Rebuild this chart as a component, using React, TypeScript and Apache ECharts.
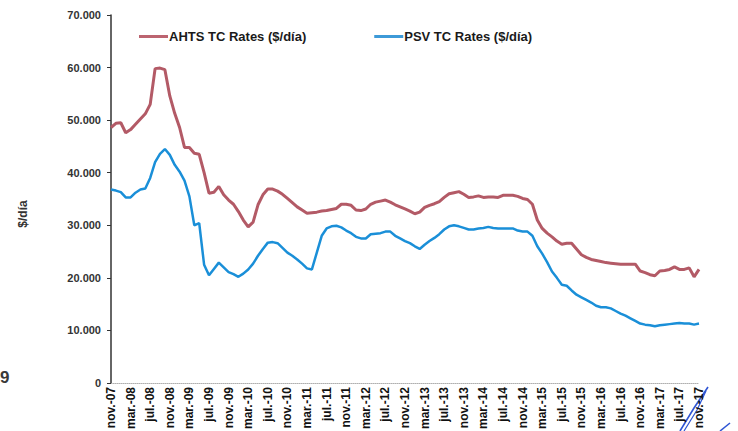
import React, { useEffect, useRef } from "react";
import * as echarts from "echarts";

const MONTH_NAMES = ["ene.", "feb.", "mar.", "abr.", "may.", "jun.", "jul.", "ago.", "sep.", "oct.", "nov.", "dic."];
const START_YEAR = 2007;
const START_MONTH = 10; // nov
const N_MONTHS = 121;

const categories: string[] = [];
for (let k = 0; k < N_MONTHS; k++) {
  const m = (START_MONTH + k) % 12;
  const y = START_YEAR + Math.floor((START_MONTH + k) / 12);
  categories.push(`${MONTH_NAMES[m]}-${String(y % 100).padStart(2, "0")}`);
}

const ahtsValues = [
  48600, 49400, 49500, 47600, 48200, 49200, 50200, 51200, 53000, 59800,
  59900, 59600, 54600, 51300, 48600, 44800, 44800, 43700, 43500, 40000,
  36100, 36300, 37400, 35800, 34800, 34000, 32600, 31000, 29700, 30600,
  33900, 35800, 36900, 36900, 36500, 35900, 35100, 34300, 33500, 32900,
  32300, 32400, 32500, 32700, 32800, 33000, 33200, 34000, 34000, 33800,
  32900, 32800, 33100, 34000, 34400, 34600, 34800, 34400, 33900, 33500,
  33100, 32700, 32200, 32500, 33400, 33800, 34100, 34500, 35300, 36000,
  36200, 36400, 35900, 35300, 35400, 35600, 35300, 35400, 35400, 35300,
  35700, 35700, 35700, 35500, 35100, 34900, 34000, 31000, 29400, 28500,
  27800, 27000, 26400, 26600, 26600, 25500, 24400, 23900, 23500, 23300,
  23100, 22900, 22800, 22700, 22600, 22600, 22600, 22600, 21300, 21000,
  20600, 20400, 21300, 21400, 21600, 22100, 21600, 21600, 21900, 20200,
  21600,
];

const psvValues = [
  36800, 36600, 36300, 35300, 35300, 36200, 36800, 37000, 39000, 42000,
  43600, 44500, 43400, 41500, 40200, 38500, 35500, 30000, 30400, 22500,
  20500, 21700, 22900, 22000, 21100, 20700, 20200, 20800, 21600, 22700,
  24200, 25500, 26700, 26800, 26600, 25700, 24800, 24200, 23500, 22700,
  21800, 21600, 24800, 28000, 29400, 29800, 29900, 29600, 29000, 28500,
  27800, 27500, 27500, 28300, 28400, 28500, 28800, 28800, 28000, 27500,
  27000, 26600, 26000, 25500, 26300, 27000, 27600, 28300, 29200, 29800,
  30000, 29800, 29500, 29200, 29200, 29400, 29500, 29700, 29500, 29400,
  29400, 29400, 29400, 29000, 28800, 28800, 28000, 26000, 24600, 23000,
  21200, 20000, 18700, 18500, 17600, 16800, 16300, 15800, 15300, 14700,
  14400, 14400, 14200, 13700, 13200, 12800, 12300, 11800, 11300, 11100,
  11000, 10800, 11000, 11100, 11200, 11300, 11400, 11300, 11300, 11100,
  11300,
];

const SERIES_NAMES = ["AHTS TC Rates ($/día)", "PSV TC Rates ($/día)"];
const Y_TICKS_MAX = 70000;
const Y_INTERVAL = 10000;

function fmtThousands(v: number): string {
  return String(Math.round(v)).replace(/\B(?=(\d{3})+(?!\d))/g, ".");
}

export default function App() {
  const ref = useRef<HTMLDivElement>(null);
  useEffect(() => {
    if (!ref.current) return;
    const chart = echarts.init(ref.current, undefined, { renderer: "svg" });
    const font = "'Liberation Sans', Arial, sans-serif";
    chart.setOption({
      animation: false,
      backgroundColor: "#ffffff",
      textStyle: { fontFamily: font },
      grid: {
        left: 111,
        right: 39,
        top: 15,
        bottom: 48,
        containLabel: false,
        outerBoundsMode: "none",
      },
      legend: {
        left: 139,
        top: 30,
        padding: 0,
        itemGap: 68,
        itemWidth: 29,
        itemHeight: 3,
        icon: "rect",
        textStyle: { fontFamily: font, fontSize: 13, fontWeight: "bold", color: "#1a1a1a", padding: [0, 0, 0, -4] },
        data: SERIES_NAMES,
      },
      xAxis: {
        type: "category",
        boundaryGap: false,
        data: categories,
        axisLine: { show: true, lineStyle: { color: "#b0b0b0", type: "dotted", width: 1 } },
        axisTick: { show: false },
        axisLabel: {
          interval: 3,
          rotate: 90,
          margin: 4,
          fontFamily: font,
          fontSize: 12,
          fontWeight: "bold",
          color: "#111111",
        },
        splitLine: { show: false },
      },
      yAxis: {
        type: "value",
        min: 0,
        max: Y_TICKS_MAX,
        interval: Y_INTERVAL,
        axisLine: { show: true, lineStyle: { color: "#333333", width: 1.5 } },
        axisTick: { show: true, length: 4, lineStyle: { color: "#333333" } },
        axisLabel: {
          margin: 10,
          fontFamily: font,
          fontSize: 11,
          fontWeight: "bold",
          color: "#333333",
          formatter: (v: number) => fmtThousands(v),
        },
        splitLine: { show: false },
      },
      graphic: [
        {
          type: "text",
          x: 23,
          y: 214,
          rotation: Math.PI / 2,
          style: {
            text: "$/día",
            font: `bold 12px ${font}`,
            fill: "#333333",
            align: "center",
            verticalAlign: "middle",
          },
        },
        {
          type: "text",
          x: 0,
          y: 377,
          style: {
            text: "9",
            font: `bold 17px ${font}`,
            fill: "#3a3a3a",
            align: "left",
            verticalAlign: "middle",
          },
        },
        {
          type: "polyline",
          shape: { points: [[680, 431], [694, 408], [708, 387]] },
          style: { stroke: "#2f55d4", lineWidth: 1.6, fill: "none" },
        },
        {
          type: "polyline",
          shape: { points: [[684, 431], [697, 410], [706, 391]] },
          style: { stroke: "#2f55d4", lineWidth: 1.2, fill: "none" },
        },
        {
          type: "polyline",
          shape: { points: [[720, 431], [730, 423]] },
          style: { stroke: "#2f55d4", lineWidth: 1.6, fill: "none" },
        },
      ],
      series: [
        {
          name: SERIES_NAMES[0],
          type: "line",
          data: ahtsValues,
          showSymbol: false,
          symbol: "none",
          color: "#bc6470",
          lineStyle: { color: "#b35a66", width: 3 },
          z: 3,
        },
        {
          name: SERIES_NAMES[1],
          type: "line",
          data: psvValues,
          showSymbol: false,
          symbol: "none",
          color: "#3d9ad8",
          lineStyle: { color: "#1a8fd8", width: 2.5 },
          z: 2,
        },
      ],
    });
    return () => chart.dispose();
  }, []);
  return (
    <div
      ref={ref}
      style={{ position: "fixed", left: 0, top: 0, width: 738, height: 431, background: "#fff" }}
    />
  );
}
